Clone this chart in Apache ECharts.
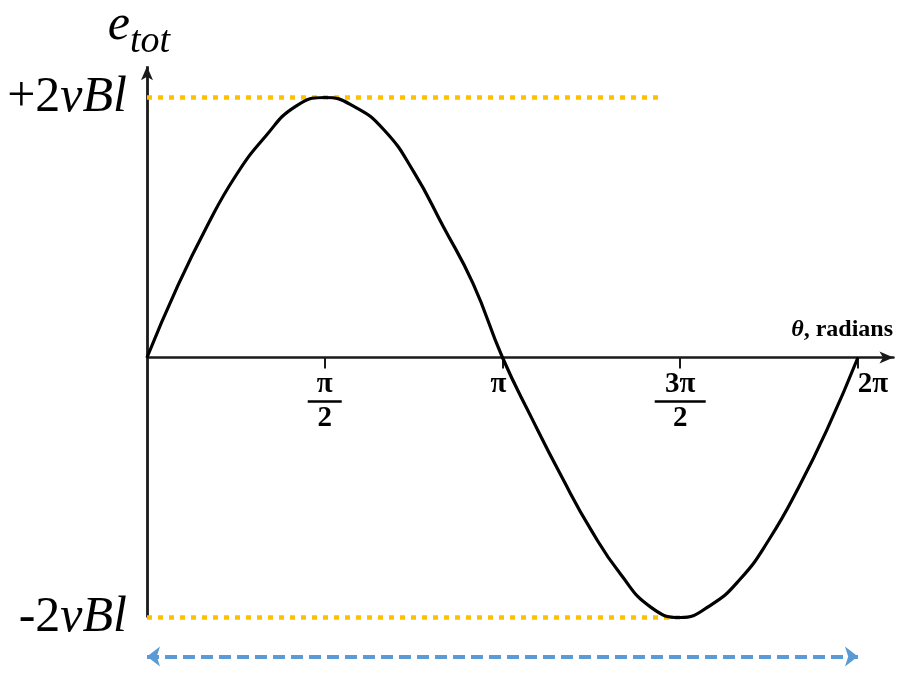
<!DOCTYPE html>
<html>
<head>
<meta charset="utf-8">
<script src="https://cdn.jsdelivr.net/npm/echarts@6/dist/echarts.min.js"></script>
<style>
  html, body { margin: 0; padding: 0; background: #ffffff; }
  #chart { width: 898px; height: 674px; }
</style>
</head>
<body>
<div id="chart"></div>
<script>
// theta in multiples of pi (steps of pi/12), e_tot in units of vBl
const thetaPi = [0, 0.083, 0.167, 0.25, 0.333, 0.417, 0.5, 0.583, 0.667, 0.75, 0.833, 0.917,
  1.0, 1.083, 1.167, 1.25, 1.333, 1.417, 1.5, 1.583, 1.667, 1.75, 1.833, 1.917, 2.0];
const eTot = [0, 0.53, 1.0, 1.4, 1.7, 1.93, 2.0, 1.93, 1.75, 1.43, 1.01, 0.57,
  0, -0.47, -0.92, -1.33, -1.67, -1.92, -2.0, -1.91, -1.71, -1.4, -1.0, -0.53, 0];

const xTickValues = [0.5, 1, 1.5, 2];
const xTickLabels = ['π/2', 'π', '3π/2', '2π'];
const yTickValues = [2, -2];
const yTickLabels = ['+2|vBl', '-2|vBl'];
const peakLevel = 2;
const troughLevel = -2;
const spanLevel = -2.3;

const curve = thetaPi.map((t, i) => [t, eTot[i]]);

function xLabel(value) {
  const i = xTickValues.indexOf(value);
  const txt = xTickLabels[i];
  if (txt.indexOf('/') >= 0) {
    const parts = txt.split('/');
    const barStyle = parts[0].length > 1 ? 'barw' : 'bar';
    return '{n|' + parts[0] + '}\n{' + barStyle + '| }\n{d|' + parts[1] + '}';
  }
  if (txt === 'π') return '{p|π}';
  return '{q|' + txt + '}';
}

function yLabel(value) {
  const i = yTickValues.indexOf(value);
  const parts = yTickLabels[i].split('|');
  return '{u|' + parts[0] + '}{i|' + parts[1] + '}';
}

const serif = 'Liberation Serif';
const axisColor = '#1a1a1a';

const chart = echarts.init(document.getElementById('chart'), null, { renderer: 'canvas' });
chart.setOption({
  backgroundColor: '#ffffff',
  animation: false,
  grid: { left: 147, top: 66.3, width: 746.5, height: 590.2, containLabel: false, outerBoundsMode: 'none' },
  xAxis: {
    type: 'value',
    min: 0,
    max: 2.1,
    position: 'bottom',
    offset: -299,
    splitLine: { show: false },
    axisLine: {
      onZero: false,
      lineStyle: { color: axisColor, width: 2.5 },
      symbol: ['none', 'arrow'],
      symbolSize: [9, 14]
    },
    axisTick: {
      customValues: xTickValues,
      length: 11,
      lineStyle: { color: axisColor, width: 2 }
    },
    axisLabel: {
      customValues: xTickValues,
      margin: 13,
      formatter: xLabel,
      color: '#000',
      rich: {
        n: { fontFamily: serif, fontWeight: 'bold', fontSize: 29, lineHeight: 28, align: 'center', color: '#000' },
        d: { fontFamily: serif, fontWeight: 'bold', fontSize: 29, lineHeight: 28, align: 'center', color: '#000' },
        bar: { width: 34, height: 2.5, lineHeight: 6, fontSize: 2, backgroundColor: '#000', align: 'center' },
        barw: { width: 51, height: 2.5, lineHeight: 6, fontSize: 2, backgroundColor: '#000', align: 'center' },
        p: { fontFamily: serif, fontWeight: 'bold', fontSize: 29, lineHeight: 28, color: '#000', padding: [0, 8, 0, 0] },
        q: { fontFamily: serif, fontWeight: 'bold', fontSize: 29, lineHeight: 28, color: '#000', padding: [0, 0, 0, 30] }
      }
    }
  },
  yAxis: {
    type: 'value',
    min: spanLevel,
    max: 2.24,
    splitLine: { show: false },
    axisLine: { show: false },
    axisTick: { show: false },
    name: '{e|e}{s|tot}',
    nameLocation: 'end',
    nameGap: 5,
    nameTextStyle: {
      align: 'center',
      padding: [0, 16, 0, 0],
      rich: {
        e: { fontFamily: serif, fontStyle: 'italic', fontSize: 50, color: '#000', verticalAlign: 'bottom', padding: [0, 0, 10, 0] },
        s: { fontFamily: serif, fontStyle: 'italic', fontSize: 38, color: '#000', verticalAlign: 'bottom' }
      }
    },
    axisLabel: {
      customValues: yTickValues,
      margin: 20,
      formatter: yLabel,
      rich: {
        u: { fontFamily: serif, fontSize: 50, color: '#000' },
        i: { fontFamily: serif, fontStyle: 'italic', fontSize: 50, color: '#000' }
      }
    }
  },
  series: [
    {
      type: 'line',
      data: curve,
      smooth: 0.5,
      showSymbol: false,
      silent: true,
      z: 5,
      lineStyle: { color: '#000000', width: 3.2 },
      markLine: {
        silent: true,
        animation: false,
        label: { show: false },
        emphasis: { disabled: true },
        data: [
          // vertical e_tot axis with its arrow
          [
            { coord: [0, troughLevel], symbol: 'none', lineStyle: { color: axisColor, width: 2.8, type: 'solid' } },
            { coord: [0, 2.24], symbol: 'arrow', symbolSize: [9, 14] }
          ],
          // peak level guide
          [
            { coord: [0, peakLevel], symbol: 'none', lineStyle: { color: '#FFC000', width: 4.5, type: [5, 6], cap: 'butt' } },
            { coord: [1.443, peakLevel], symbol: 'none' }
          ],
          // trough level guide
          [
            { coord: [0, troughLevel], symbol: 'none', lineStyle: { color: '#FFC000', width: 4.5, type: [5, 6], cap: 'butt' } },
            { coord: [1.508, troughLevel], symbol: 'none' }
          ],
          // one full period
          [
            { coord: [0, spanLevel], symbol: 'arrow', symbolSize: [15, 13], lineStyle: { color: '#5B9BD5', width: 4, type: [12, 6], cap: 'butt' } },
            { coord: [2.0, spanLevel], symbol: 'arrow', symbolSize: [15, 13] }
          ]
        ]
      }
    }
  ],
  graphic: [
    {
      type: 'text',
      right: 5,
      top: 318,
      silent: true,
      style: {
        text: '{t|θ}{r|, radians}',
        rich: {
          t: { fontFamily: serif, fontWeight: 'bold', fontStyle: 'italic', fontSize: 24, fill: '#000' },
          r: { fontFamily: serif, fontWeight: 'bold', fontSize: 24, fill: '#000' }
        }
      }
    }
  ]
});
</script>
</body>
</html>
